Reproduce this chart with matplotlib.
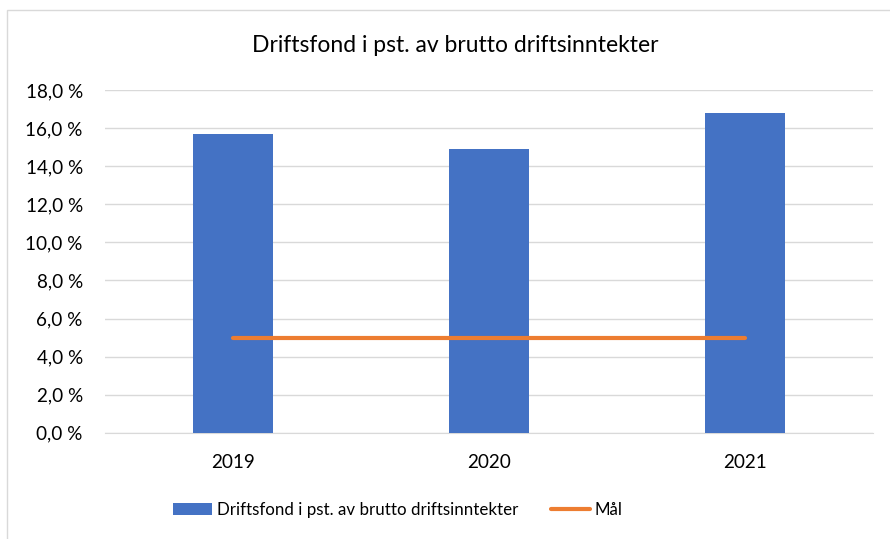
import matplotlib
matplotlib.use('Agg')
import matplotlib.pyplot as plt
from matplotlib.ticker import FuncFormatter, MultipleLocator
from matplotlib.patches import Rectangle

plt.rcParams['font.family'] = ['Lato', 'DejaVu Sans']

years = ['2019', '2020', '2021']
driftsfond = [15.7, 14.9, 16.8]
maal = [5.0, 5.0, 5.0]

blue = '#4472c4'
orange = '#ed7d31'
grid = '#d9d9d9'

fig = plt.figure(figsize=(8.9, 5.39), dpi=100)
ax = fig.add_axes([0.118, 0.197, 0.863, 0.636])

x = range(len(years))
b = ax.bar(x, driftsfond, width=0.31, color=blue, zorder=3)
l, = ax.plot(x, maal, color=orange, lw=3, solid_capstyle='round', zorder=4)

ax.set_xlim(-0.5, 2.5)
ax.set_ylim(0, 18)
ax.yaxis.set_major_locator(MultipleLocator(2))
ax.yaxis.set_major_formatter(FuncFormatter(lambda v, p: ('%.1f' % v).replace('.', ',') + ' %'))
ax.set_xticks(list(x))
ax.set_xticklabels(years)
ax.grid(axis='y', color=grid, lw=1, zorder=0)
for s in ['top', 'right', 'left']:
  ax.spines[s].set_visible(False)
ax.spines['bottom'].set_color(grid)
ax.tick_params(axis='both', length=0, labelsize=13.6, colors='#000000')
ax.tick_params(axis='y', pad=16)
ax.tick_params(axis='x', pad=15)

fig.text(0.511, 0.916, 'Driftsfond i pst. av brutto driftsinntekter',
         ha='center', va='center', fontsize=16.5)

lgd = fig.legend([b, l], ['Driftsfond i pst. av brutto driftsinntekter', 'Mål'],
                 loc='center', bbox_to_anchor=(0.447, 0.054), ncol=2, frameon=False,
                 fontsize=12.2, handlelength=2.3, handletextpad=0.3, columnspacing=1.9)

# outer chart border
fig.patches.append(Rectangle((0.008, -0.1), 1.1, 1.081, transform=fig.transFigure,
                             fill=False, edgecolor=grid, lw=1))

fig.savefig('out.png', dpi=100)
